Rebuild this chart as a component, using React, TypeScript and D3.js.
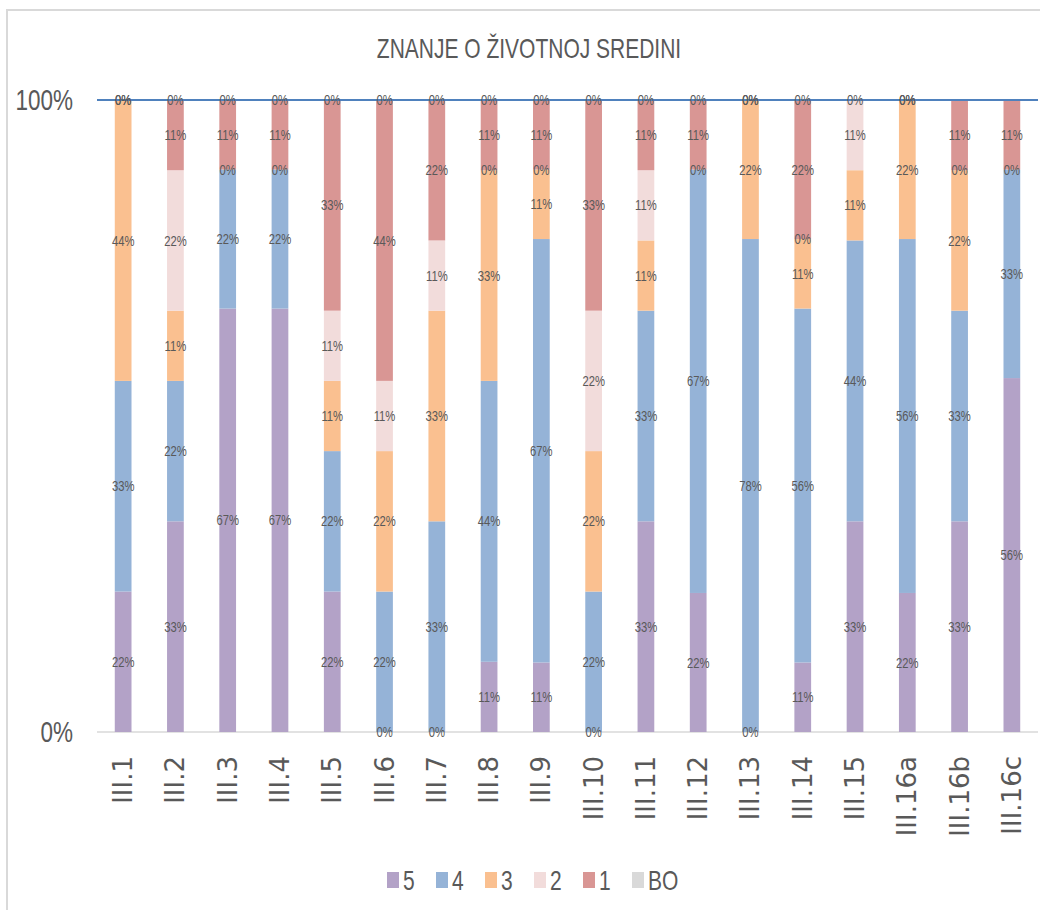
import React from "react";
import * as d3 from "d3";

const title = "ZNANJE O ŽIVOTNOJ SREDINI";
const categories = ["III.1","III.2","III.3","III.4","III.5","III.6","III.7","III.8","III.9","III.10","III.11","III.12","III.13","III.14","III.15","III.16a","III.16b","III.16c"];
const seriesNames = ["5","4","3","2","1","BO"];
const s5 = [22,33,67,67,22,0,0,11,11,0,33,22,0,11,33,22,33,56];
const s4 = [33,22,22,22,22,22,33,44,67,22,33,67,78,56,44,56,33,33];
const s3 = [44,11,null,null,11,22,33,33,11,22,11,null,22,11,11,22,22,null];
const s2 = [null,22,0,0,11,11,11,0,0,22,11,0,null,0,11,null,0,0];
const s1 = [0,11,11,11,33,44,22,11,11,33,11,11,0,22,null,0,11,11];
const sBO = [0,0,0,0,0,0,0,0,0,0,0,0,0,0,0,0,null,null];
const seriesValues: (number | null)[][] = [s5, s4, s3, s2, s1, sBO];
const colors = ["#b3a2c7","#95b3d7","#fac090","#f2dcdb","#d99694","#d9d9d9"];
const yTicks = [0, 1];

const W = 1040, H = 910;
const M = { left: 97, right: 1038, top: 100, bottom: 732 };
const TXT = "#595959";
const SX = 0.75;
const FONT = "'Liberation Sans', Arial, sans-serif";

function SqText(props: { x: number; y: number; size: number; anchor?: string; children: React.ReactNode }) {
  return (
    <text
      transform={`translate(${props.x},${props.y}) scale(${SX},1)`}
      fontSize={props.size}
      fontFamily={FONT}
      fill={TXT}
      textAnchor={props.anchor || "middle"}
      dominantBaseline="central"
    >
      {props.children}
    </text>
  );
}

export default function App() {
  const rows = categories.map((c, i) => {
    const r: any = { cat: c };
    seriesNames.forEach((s, k) => { r[s] = seriesValues[k][i] ?? 0; });
    return r;
  });
  const stack = d3.stack<any>().keys(seriesNames).offset(d3.stackOffsetExpand);
  const layers = stack(rows);

  const x = d3.scaleBand<string>().domain(categories).range([M.left, M.right]).paddingInner(0.68).paddingOuter(0.34);
  const y = d3.scaleLinear().domain([0, 1]).range([M.bottom, M.top]);
  const bw = x.bandwidth();

  const legendStart = 387;
  const legendStep = 49;

  return (
    <svg width={W} height={H} style={{ position: "absolute", left: 0, top: 0, background: "#fff" }}>
      <rect x={7} y={10} width={1060} height={940} fill="#fff" stroke="#d9d9d9" strokeWidth={2} />
      <SqText x={529} y={48} size={28}>{title}</SqText>

      {yTicks.map((t) => (
        <SqText key={t} x={73} y={y(t)} size={30} anchor="end">{d3.format(".0%")(t)}</SqText>
      ))}

      <line x1={M.left} x2={M.right} y1={y(0)} y2={y(0)} stroke="#d9d9d9" strokeWidth={1.5} />

      {layers.map((layer, k) => (
        <g key={layer.key} fill={colors[k]}>
          {layer.map((d, i) => (
            <rect key={i} x={x(categories[i])} y={y(d[1])} width={bw} height={Math.max(0, y(d[0]) - y(d[1]))} />
          ))}
        </g>
      ))}

      <line x1={M.left} x2={M.right} y1={y(1)} y2={y(1)} stroke="#4f81bd" strokeWidth={2} />

      {layers.map((layer, k) => (
        <g key={"l" + layer.key}>
          {layer.map((d, i) => {
            const v = seriesValues[k][i];
            if (v === null) return null;
            return (
              <SqText key={i} x={(x(categories[i]) as number) + bw / 2} y={y((d[0] + d[1]) / 2)} size={15}>
                {v + "%"}
              </SqText>
            );
          })}
        </g>
      ))}

      {categories.map((c) => (
        <text
          key={c}
          transform={`translate(${(x(c) as number) + bw / 2},${M.bottom + 24}) rotate(-90)`}
          fontSize={26}
          fontFamily="'DejaVu Sans', sans-serif"
          fill={TXT}
          textAnchor="end"
          dominantBaseline="central"
        >
          {c}
        </text>
      ))}

      {seriesNames.map((s, k) => (
        <g key={"lg" + s}>
          <rect x={legendStart + k * legendStep} y={872} width={12} height={16} fill={colors[k]} />
          <SqText x={legendStart + k * legendStep + 16} y={880} size={28} anchor="start">{s}</SqText>
        </g>
      ))}
    </svg>
  );
}
